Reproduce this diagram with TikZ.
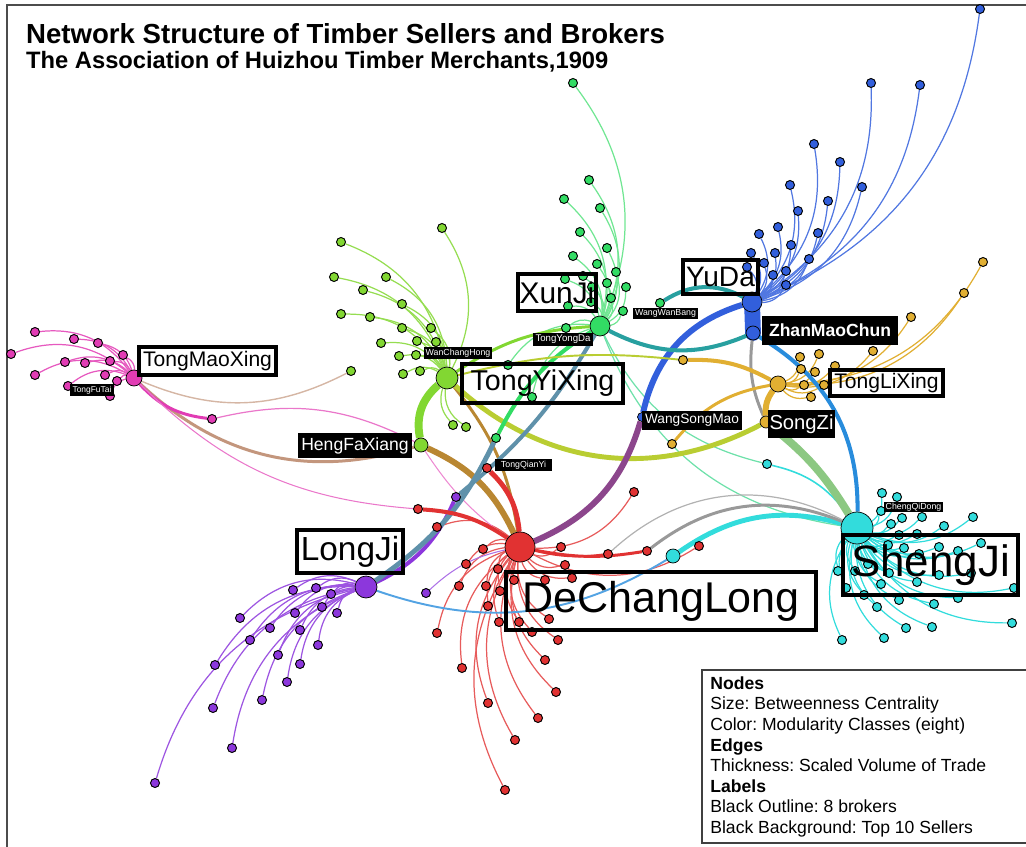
\documentclass[tikz,border=0pt]{standalone}
\usepackage{fontspec}
\setmainfont{Liberation Sans}
\usetikzlibrary{backgrounds}

\definecolor{tmxmag}{RGB}{225,60,180}
\definecolor{tyxlime}{RGB}{130,215,50}
\definecolor{xjgreen}{RGB}{50,220,100}
\definecolor{ydblue}{RGB}{50,95,220}
\definecolor{tlxgold}{RGB}{225,175,50}
\definecolor{sjcyan}{RGB}{50,220,220}
\definecolor{dclred}{RGB}{225,50,50}
\definecolor{ljpurple}{RGB}{140,55,220}
\definecolor{hfxbrown}{RGB}{185,135,50}
\definecolor{tmxtan}{RGB}{195,150,125}
\definecolor{steelgrey}{RGB}{95,145,170}
\definecolor{yelgreen}{RGB}{185,205,50}
\definecolor{edgeteal}{RGB}{40,160,160}
\definecolor{sjblue}{RGB}{40,140,220}
\definecolor{palegreen}{RGB}{140,200,130}
\definecolor{wsmviolet}{RGB}{140,70,140}
\definecolor{mintline}{RGB}{110,225,170}

\newcommand{\lblsize}[1]{\fontsize{#1}{#1}\selectfont}

\tikzset{
  hub/.style={circle, draw=black, line width=0.4pt, inner sep=0pt, minimum size=#1},
  leaf/.style={circle, draw=black, line width=0.55pt, inner sep=0pt, minimum size=0.18cm, fill=#1},
  fan/.style={draw=#1, line width=0.7pt, bend right=30},
  broker/.style={draw=black, line width=2.3pt, inner sep=0pt},
  seller/.style={fill=black, text=white, inner sep=0pt},
}

\begin{document}
\frenchspacing
\begin{tikzpicture}[x=0.02cm, y=-0.02cm]
    \useasboundingbox (0,0) rectangle (1026,847);
    \draw[line width=0.8pt, black!70] (7,847) -- (7,5) -- (1026,5);

    % title
    \node[anchor=base west, font=\bfseries\lblsize{15.7}] (title) at (20,44)
        {Network Structure of Timber Sellers and Brokers};
    \node[anchor=base west, font=\bfseries\lblsize{13.5}] (subtitle) at (20,69)
        {The Association of Huizhou Timber Merchants,1909};

    % hubs
    \node[hub=0.32cm, fill=tmxmag] (tmx) at (134,378) {};
    \node[hub=0.44cm, fill=tyxlime] (tyx) at (447,378) {};
    \node[hub=0.28cm, fill=tyxlime] (hfx) at (421,445) {};
    \node[hub=0.40cm, fill=xjgreen] (xj) at (600,326) {};
    \node[hub=0.40cm, fill=ydblue] (yd) at (752,302) {};
    \node[hub=0.28cm, fill=ydblue] (zmc) at (753,333) {};
    \node[hub=0.32cm, fill=tlxgold] (tlx) at (778,384) {};
    \node[hub=0.24cm, fill=tlxgold] (sz) at (766,422) {};
    \node[hub=0.18cm, fill=ydblue] (wsm) at (642,417) {};
    \node[hub=0.44cm, fill=ljpurple] (lj) at (366,587) {};
    \node[hub=0.60cm, fill=dclred] (dcl) at (520,547) {};
    \node[hub=0.64cm, fill=sjcyan] (sj) at (857,528) {};
    \node[hub=0.28cm, fill=sjcyan] (cyn) at (673,556) {};

    % in-between nodes
    \node[leaf=ljpurple] (ljp) at (456,497) {};
    \node[leaf=ljpurple] (ljq) at (426,593) {};
    \node[leaf=xjgreen] (xjg) at (496,438) {};
    \node[leaf=xjgreen] (wwb) at (660,303) {};
    \node[leaf=tlxgold] (gw) at (683,360) {};
    \node[leaf=tlxgold] (gs) at (672,444) {};
    \node[leaf=tmxmag] (tmm) at (212,419) {};
    \node[leaf=tyxlime] (tyl) at (351,371) {};
    \node[leaf=dclred] (tqy) at (487,468) {};
    \node[leaf=dclred] (rp) at (418,509) {};
    \node[leaf=dclred] (rg1) at (647,551) {};
    \node[leaf=dclred] (rg2) at (608,554) {};
    \node[leaf=sjcyan] (cy2) at (767,464) {};

    % leaf fans
    \foreach \x/\y [count=\i] in {35/332, 74/339, 98/343, 11/354, 123/355, 65/362, 85/363,
        110/361, 35/375, 105/375, 117/381, 68/386, 110/396} {
        \node[leaf=tmxmag] (tm\i) at (\x,\y) {};
        \begin{pgfonlayer}{background}
            \draw[fan=tmxmag!85] (tmx) to (tm\i);
        \end{pgfonlayer}
    }
    \foreach \x/\y [count=\i] in {341/242, 334/277, 386/277, 363/290, 402/304, 341/314, 370/317,
        442/228, 431/328, 402/328, 417/341, 436/342, 381/343, 399/356, 416/355, 403/374,
        420/371, 453/425, 466/427} {
        \node[leaf=tyxlime] (ty\i) at (\x,\y) {};
        \begin{pgfonlayer}{background}
            \draw[fan=tyxlime!85] (tyx) to (ty\i);
        \end{pgfonlayer}
    }
    \foreach \x/\y [count=\i] in {573/83, 589/180, 564/199, 600/208, 580/232, 607/248, 573/256,
        597/264, 616/272, 565/279, 583/276, 607/283, 626/287, 592/287, 611/298, 568/306,
        591/302, 623/311, 566/328, 508/365, 532/397} {
        \node[leaf=xjgreen] (xg\i) at (\x,\y) {};
        \begin{pgfonlayer}{background}
            \draw[fan=xjgreen!70] (xj) to (xg\i);
        \end{pgfonlayer}
    }
    \foreach \x/\y [count=\i] in {980/9, 871/83, 920/85, 814/144, 840/162, 790/185, 862/187,
        828/201, 798/211, 759/234, 778/227, 818/233, 791/245, 751/253, 775/253, 764/263,
        747/267, 809/259, 786/271, 773/275, 786/285} {
        \node[leaf=ydblue] (yb\i) at (\x,\y) {};
        \begin{pgfonlayer}{background}
            \draw[fan=ydblue!85] (yd) to (yb\i);
        \end{pgfonlayer}
    }
    \foreach \x/\y [count=\i] in {983/262, 964/293, 911/317, 873/351, 819/354, 800/357, 801/369,
        815/372, 804/385, 824/385, 811/397, 835/366} {
        \node[leaf=tlxgold] (tg\i) at (\x,\y) {};
        \begin{pgfonlayer}{background}
            \draw[fan=tlxgold] (tlx) to (tg\i);
        \end{pgfonlayer}
    }
    \foreach \x/\y [count=\i] in {882/493, 897/497, 881/511, 891/524, 902/518, 922/517, 944/526,
        973/517, 899/535, 917/534, 888/545, 904/548, 939/547, 958/551, 981/543, 919/554,
        838/571, 855/571, 868/564, 889/573, 939/575, 971/573, 846/588, 881/584, 917/582,
        864/595, 899/600, 934/604, 958/598, 1014/588, 877/607, 906/628, 932/627, 1012/623,
        842/640, 884/638} {
        \node[leaf=sjcyan] (sc\i) at (\x,\y) {};
        \begin{pgfonlayer}{background}
            \draw[fan=sjcyan] (sj) to (sc\i);
        \end{pgfonlayer}
    }
    \foreach \x/\y [count=\i] in {437/527, 483/549, 466/564, 459/586, 486/586, 498/569, 500/591,
        514/580, 488/606, 499/622, 519/622, 532/632, 437/633, 558/640, 561/547, 565/565,
        572/578, 545/580, 549/619, 634/492, 699/546, 462/668, 488/703, 515/740, 538/718,
        556/692, 505/790, 545/660} {
        \node[leaf=dclred] (dr\i) at (\x,\y) {};
        \begin{pgfonlayer}{background}
            \draw[fan=dclred!80] (dcl) to (dr\i);
        \end{pgfonlayer}
    }
    \foreach \x/\y [count=\i] in {293/590, 316/588, 331/594, 295/613, 322/607, 337/613, 155/783,
        232/748, 213/708, 262/700, 287/682, 300/664, 318/645, 278/655, 250/640, 270/628,
        240/618, 300/630, 215/665} {
        \node[leaf=ljpurple] (lp\i) at (\x,\y) {};
        \begin{pgfonlayer}{background}
            \draw[fan=ljpurple!85] (lj) to (lp\i);
        \end{pgfonlayer}
    }

    % hub to hub edges
    \begin{pgfonlayer}{background}
        \draw[mintline, line width=0.7pt] (xj) to[bend right=30] (sj);
        \draw[mintline, line width=0.7pt] (xj) to[bend right=25] (cy2);
        \draw[sjcyan, line width=0.9pt] (cy2) to[bend left=20] (sj);
        \draw[tmxtan, line width=1.7pt] (tmx) to[bend right=30] (hfx);
        \draw[tmxmag, line width=1.7pt] (tmx) to[bend right=20] (tmm);
        \draw[tmxmag!70, line width=0.7pt] (tmm) to[bend left=20] (hfx);
        \draw[tmxtan!70, line width=0.8pt] (tmx) to[bend right=25] (tyl);
        \draw[tmxmag!70, line width=0.6pt] (tmx) to[bend right=20] (rp);
        \draw[tmxmag!60, line width=0.6pt] (hfx) to[bend right=10] (dcl);
        \draw[hfxbrown, line width=3.4pt] (hfx) to[bend left=20] (dcl);
        \draw[hfxbrown, line width=1.7pt] (tyx) to[bend left=15] (dcl);
        \draw[tyxlime, line width=4.5pt] (tyx) to[bend right=30] (hfx);
        \draw[yelgreen, line width=2.8pt] (tyx) to[bend right=35] (sz);
        \draw[tyxlime, line width=1.7pt] (tyx) to[bend left=15] (xj);
        \draw[ljpurple, line width=2.3pt] (lj) to[bend right=20] (ljp);
        \draw[ljpurple!70, line width=0.6pt] (ljq) to[bend left=15] (dcl);
        \draw[steelgrey, line width=2.3pt] (ljp) to[bend right=10] (xj);
        \draw[steelgrey, line width=2.8pt] (lj) to[bend right=15] (xjg);
        \draw[xjgreen, line width=2.3pt] (xjg) to[bend left=15] (xj);
        \draw[wsmviolet, line width=3.4pt] (dcl) to[bend right=25] (wsm);
        \draw[ydblue, line width=3.4pt] (wsm) to[bend left=30] (yd);
        \draw[ydblue, line width=9pt, line cap=round] (yd.center) -- (zmc.center);
        \draw[sjblue, line width=2.3pt] (zmc) to[bend left=30] (sj);
        \draw[gray!80, line width=1.7pt] (zmc) to[bend right=15] (sz);
        \draw[tlxgold, line width=3.4pt] (tlx) to[bend right=20] (sz);
        \draw[palegreen, line width=4.5pt] (sz) to[bend left=10] (sj);
        \draw[tlxgold, line width=2.3pt] (tlx) to[bend right=15] (gw);
        \draw[yelgreen, line width=1.1pt] (gw) to[bend right=10] (tyx);
        \draw[tlxgold, line width=1.7pt] (tlx) to[bend right=20] (gs);
        \draw[edgeteal, line width=2.3pt] (xj) to[bend right=25] (zmc);
        \draw[edgeteal, line width=2.3pt] (yd) to[bend right=30] (wwb);
        \draw[sjcyan, line width=2.8pt] (cyn) to[bend left=25] (sj);
        \draw[gray!80, line width=1.7pt] (rg1) to[bend left=30] (sj);
        \draw[gray!60, line width=0.7pt] (rg2) to[bend left=35] (sj);
        \draw[dclred, line width=1.7pt] (dcl) to[bend right=10] (rg1);
        \draw[dclred, line width=1.1pt] (dcl) to[bend right=10] (rg2);
        \draw[sjblue!80, line width=1.1pt] (lj) to[bend right=25] (cyn);
        \draw[dclred, line width=2.8pt] (dcl) to[bend right=20] (tqy);
        \draw[dclred, line width=2.3pt] (dcl) to[bend right=15] (rp);
    \end{pgfonlayer}

    % broker labels
    \node[broker, minimum width=2.74cm, minimum height=0.56cm, font=\lblsize{12}] (lblTMX) at (207.5,361) {TongMaoXing};
    \node[broker, minimum width=3.22cm, minimum height=0.78cm, font=\lblsize{16.3}] (lblTYX) at (542.5,383.5) {TongYiXing};
    \node[broker, minimum width=1.56cm, minimum height=0.74cm, font=\lblsize{17}] (lblXJ) at (557,292.5) {XunJi};
    \node[broker, minimum width=1.50cm, minimum height=0.68cm, font=\lblsize{16}] (lblYD) at (720.5,277) {YuDa};
    \node[broker, minimum width=2.26cm, minimum height=0.52cm, font=\lblsize{12}] (lblTLX) at (886.5,383) {TongLiXing};
    \node[broker, minimum width=2.12cm, minimum height=0.86cm, font=\lblsize{19}] (lblLJ) at (350,551.5) {LongJi};
    \node[broker, minimum width=6.20cm, minimum height=1.16cm, font=\lblsize{24.5}] (lblDCL) at (661,601) {DeChangLong};
    \node[broker, minimum width=3.50cm, minimum height=1.20cm, font=\lblsize{25}] (lblSJ) at (930.5,565) {ShengJi};

    % seller labels
    \node[seller, minimum width=2.28cm, minimum height=0.50cm, font=\lblsize{10}] (lblHFX) at (355,445.5) {HengFaXiang};
    \node[seller, minimum width=2.72cm, minimum height=0.58cm, font=\bfseries\lblsize{10}] (lblZMC) at (830,330.5) {ZhanMaoChun};
    \node[seller, minimum width=2.00cm, minimum height=0.38cm, font=\lblsize{7.8}] (lblWSM) at (692,420.5) {WangSongMao};
    \node[seller, minimum width=1.34cm, minimum height=0.56cm, font=\lblsize{11.5}] (lblSZ) at (801.5,424) {SongZi};
    \node[seller, minimum width=0.90cm, minimum height=0.24cm, font=\lblsize{4.8}] (lblTFT) at (92,390) {TongFuTai};
    \node[seller, minimum width=1.20cm, minimum height=0.26cm, font=\lblsize{5.5}] (lblTYD) at (563,339.5) {TongYongDa};
    \node[seller, minimum width=1.30cm, minimum height=0.22cm, font=\lblsize{5}] (lblWWB) at (665.5,313.5) {WangWanBang};
    \node[seller, minimum width=1.36cm, minimum height=0.24cm, font=\lblsize{5}] (lblWCH) at (458,353) {WanChangHong};
    \node[seller, minimum width=1.14cm, minimum height=0.24cm, font=\lblsize{5}] (lblTQY) at (523.5,465) {TongQianYi};
    \node[seller, minimum width=1.18cm, minimum height=0.20cm, font=\lblsize{5}] (lblCQD) at (913.5,507) {ChengQiDong};

    % legend
    \draw[line width=0.8pt, black!75] (702,670) rectangle (1030,843);
    \node[anchor=north west, align=left, inner sep=0pt, font=\fontsize{10}{11.75}\selectfont] (legend) at (710,676) {%
        \textbf{Nodes}\\
        Size: Betweenness Centrality\\
        Color: Modularity Classes (eight)\\
        \textbf{Edges}\\
        Thickness: Scaled Volume of Trade\\
        \textbf{Labels}\\
        Black Outline: 8 brokers\\
        Black Background: Top 10 Sellers};
\end{tikzpicture}
\end{document}
